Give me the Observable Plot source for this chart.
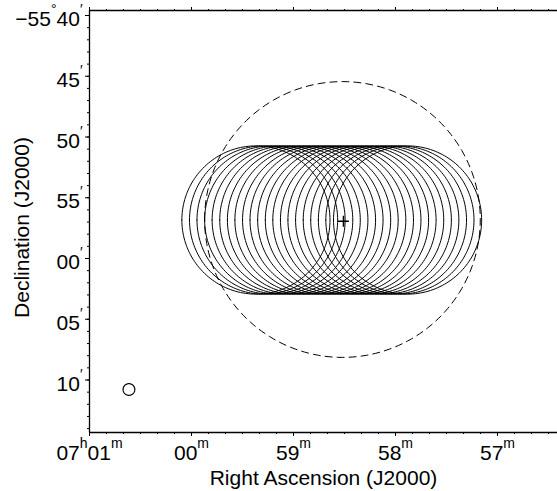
<!DOCTYPE html>
<html><head><meta charset="utf-8">
<script src="https://cdn.jsdelivr.net/npm/d3@7"></script>
<script src="https://cdn.jsdelivr.net/npm/@observablehq/plot@0.6"></script>
<style>body{margin:0;background:#fff}</style>
</head><body><div id="chart"></div>
<script>
// Mosaic pointing centres (J2000)
const pointingRA = ["06:59:22.1","06:59:17.6","06:59:13.2","06:59:08.7","06:59:04.3","06:58:59.8","06:58:55.3","06:58:50.9","06:58:46.4","06:58:42.0","06:58:37.5","06:58:33.0","06:58:28.6","06:58:24.1","06:58:19.7","06:58:15.2","06:58:10.7","06:58:06.3","06:58:01.8","06:57:57.4","06:57:52.9"];
const pointingDec = [-55.9472,-55.9472,-55.9472,-55.9472,-55.9472,-55.9472,-55.9472,-55.9472,-55.9472,-55.9472,-55.9472,-55.9472,-55.9472,-55.9472,-55.9472,-55.9472,-55.9472,-55.9472,-55.9472,-55.9472,-55.9472];
const pointingRadius = 6.1;           // arcmin
// Large dashed field circle
const fieldRA = "06:58:31.2", fieldDec = -55.9465, fieldRadius = 11.35; // arcmin
// Target cross
const targetRA = "06:58:30.6", targetDec = -55.9490;
// Beam
const beamRA = "07:00:36.8", beamDec = -56.1797, beamRadius = 0.48; // arcmin

// Axis ticks / labels
const raTicks = ["07:01:00","07:00:00","06:59:00","06:58:00","06:57:00"];
const raTickLabels = ["07{h}01{m}","00{m}","59{m}","58{m}","57{m}"];
const decTicks = [-55-40/60,-55-45/60,-55-50/60,-55-55/60,-56,-56-5/60,-56-10/60];
const decTickLabels = ["\u221255{\u00b0}40{\u2032}","45{\u2032}","50{\u2032}","55{\u2032}","00{\u2032}","05{\u2032}","10{\u2032}"];
const xTitle = "Right Ascension (J2000)";
const yTitle = "Declination (J2000)";

const raMin = s => { const [h,m,sec] = s.split(":").map(Number); return (h-6)*60 + m + sec/60; };
function ring(ra, dec, r, id) {
  const c = Math.cos(dec*Math.PI/180);
  return d3.range(0, 361, 2).map(a => {
    const t = a*Math.PI/180;
    return {id, x: ra + r*Math.cos(t)/(15*c), y: dec + r*Math.sin(t)/60};
  });
}
const pointingRings = pointingRA.flatMap((s,i) => ring(raMin(s), pointingDec[i], pointingRadius, i));
const fieldRing = ring(raMin(fieldRA), fieldDec, fieldRadius, 0);
const beamRing = ring(raMin(beamRA), beamDec, beamRadius, 0);

const xDom = [61, 61 - 468/102];
const yDom = [-55 - 40/60 - 417/12.15/60, -55 - 40/60 + 5/12.15/60];
const raMajor = raTicks.map(raMin);
const raMinor = d3.range(0, 28).map(k => 61 - k/6);
const decMinor = d3.range(40, 75).map(k => -55 - k/60);

const svg = Plot.plot({
  width: 557, height: 491,
  marginLeft: 89, marginRight: 0, marginTop: 10, marginBottom: 59,
  style: {fontFamily: "'Liberation Sans', Arial, Helvetica, sans-serif", fontSize: "21px", background: "#fff", color: "#000"},
  x: {domain: xDom, label: null},
  y: {domain: yDom, label: null},
  marks: [
    Plot.line(pointingRings, {x: "x", y: "y", z: "id", stroke: "#000", strokeWidth: 1}),
    Plot.line(fieldRing, {x: "x", y: "y", stroke: "#000", strokeWidth: 1, strokeDasharray: "7,5"}),
    Plot.line(beamRing, {x: "x", y: "y", stroke: "#000", strokeWidth: 1.2}),
    Plot.dot([0], {x: () => raMin(targetRA), y: () => targetDec, symbol: "plus", r: 3.6, stroke: "#000", strokeWidth: 1.5}),
    Plot.ruleX([xDom[0]], {stroke: "#000", strokeWidth: 1.3}),
    Plot.ruleY(yDom, {stroke: "#000", strokeWidth: 1.3}),
    Plot.axisX(raMinor, {anchor: "bottom", tickSize: 2, tickFormat: () => "", label: null}),
    Plot.axisX(raMajor, {anchor: "bottom", tickSize: 4, tickFormat: () => "", label: null}),
    Plot.axisX(raMinor, {anchor: "top", tickSize: 2, tickFormat: () => "", label: null}),
    Plot.axisX(raMajor, {anchor: "top", tickSize: 4, tickFormat: () => "", label: null}),
    Plot.axisY(decMinor, {anchor: "left", tickSize: 2, tickFormat: () => "", label: null}),
    Plot.axisY(decTicks, {anchor: "left", tickSize: 4, tickFormat: () => "", label: null}),
    Plot.text(raMajor, {x: d => d, frameAnchor: "bottom", textAnchor: "middle", lineAnchor: "top", dy: 13, text: (d, i) => raTickLabels[i], fill: "#000"}),
    Plot.text(decTicks, {y: d => d, frameAnchor: "left", textAnchor: "end", lineAnchor: "middle", dx: -7, dy: 4, text: (d, i) => decTickLabels[i], fill: "#000"}),
    Plot.text([xTitle], {frameAnchor: "bottom", textAnchor: "middle", lineAnchor: "top", dy: 38, text: d => d, fill: "#000"}),
    Plot.text([yTitle], {frameAnchor: "left", textAnchor: "middle", lineAnchor: "middle", rotate: -90, dx: -67, dy: 6, text: d => d, fill: "#000"})
  ]
});

// superscripts
d3.select(svg).selectAll("text").each(function() {
  const s = this.textContent;
  if (!s.includes("{")) return;
  const parts = s.split(/(\{[^}]*\})/).filter(p => p);
  while (this.firstChild) this.removeChild(this.firstChild);
  let up = false;
  for (const p of parts) {
    const sup = p.startsWith("{");
    const t = document.createElementNS("http://www.w3.org/2000/svg", "tspan");
    t.textContent = sup ? p.slice(1, -1) : p;
    if (sup) { t.setAttribute("font-size", 14); if (!up) t.setAttribute("dy", -12); up = true; }
    else { if (up) t.setAttribute("dy", 12); up = false; }
    this.appendChild(t);
  }
});
document.getElementById("chart").appendChild(svg);
</script>
</body></html>
